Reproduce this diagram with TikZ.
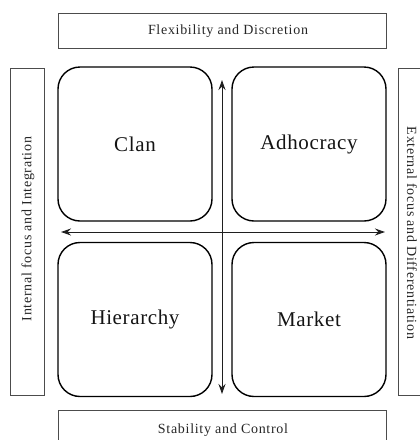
\documentclass[tikz,border=0pt]{standalone}
\usepackage{fontspec}
\setmainfont{Liberation Serif}
\usetikzlibrary{arrows.meta}
\newcommand{\smallfnt}{\fontsize{14}{16}\selectfont\addfontfeatures{LetterSpace=5}}
\newcommand{\bigfnt}{\fontsize{21}{25}\selectfont\addfontfeatures{LetterSpace=3}}
\begin{document}
\begin{tikzpicture}[x=1pt,y=-1pt,
  quad/.style={draw=black,line width=1.4pt,rounded corners=22pt,minimum width=154pt,minimum height=154pt,inner sep=0pt,font=\bigfnt,text=black!92},
  frame/.style={draw=black!70,line width=0.8pt,inner sep=0pt},
  lbl/.style={font=\smallfnt,text=black!85},
  axis/.style={line width=1pt,draw=black!88,{Stealth[length=10pt,width=7pt]}-{Stealth[length=10pt,width=7pt]}}
]
\useasboundingbox (0,0) rectangle (420,440);
\begin{scope}
\clip (0,0) rectangle (420,440);
% outer frames
\node[frame,minimum width=328pt,minimum height=35pt] (top) at (222,30.5) {};
\node[lbl] (toptxt) at (228,31) {Flexibility and Discretion};
\node[frame,minimum width=328pt,minimum height=35pt] (bot) at (222,427.5) {};
\node[lbl] (bottxt) at (223,430) {Stability and Control};
\node[frame,minimum width=34pt,minimum height=327pt] (left) at (27,231.5) {};
\node[rotate=90,lbl] (lefttxt) at (28,229) {Internal focus and Integration};
\node[frame,minimum width=34pt,minimum height=327pt] (right) at (415,231.5) {};
\node[rotate=-90,lbl] (righttxt) at (412,233) {External focus and Differentiation};
% quadrants
\node[quad] (clan) at (135,144) {Clan};
\node[quad] (adho) at (309,144) {Adhocracy};
\node[quad] (hier) at (135,319.5) {Hierarchy};
\node[quad] (mark) at (309,319.5) {Market};
% axes
\coordinate (vt) at (222,80);
\coordinate (vb) at (222,394);
\coordinate (hl) at (61,232);
\coordinate (hr) at (385,232);
\draw[axis] (vb) -- (vt);
\draw[axis] (hl) -- (hr);
\end{scope}
\end{tikzpicture}
\end{document}
